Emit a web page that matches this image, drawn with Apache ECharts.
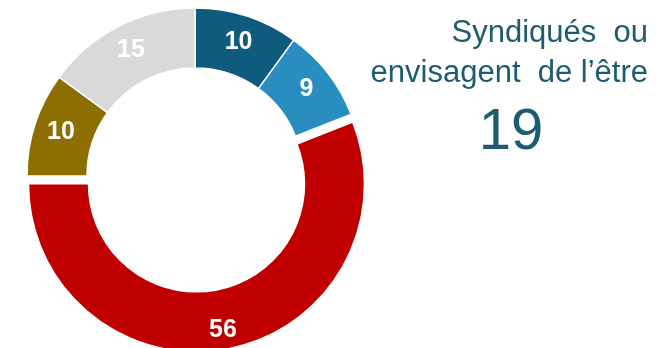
<!DOCTYPE html>
<html>
<head>
<meta charset="utf-8">
<script src="https://cdn.jsdelivr.net/npm/echarts@6/dist/echarts.min.js"></script>
<style>
html,body{margin:0;padding:0;background:#fff;}
#chart{width:666px;height:348px;}
</style>
</head>
<body>
<div id="chart"></div>
<script>
const categories = ['Syndiqués', 'Envisagent de l\'être', 'Non', 'Autre', 'NSP'];
const values = [10, 9, 56, 10, 15];
const colors = ['#0f5b7e', '#2a8dbf', '#c00000', '#8c6f00', '#d9d9d9'];
const explodedIndex = 2;
const titleLines = ['Syndiqués  ou', 'envisagent  de l\u2019être'];
const highlightValue = '19';

const chart = echarts.init(document.getElementById('chart'), null, {renderer: 'canvas'});
const option = {
  animation: false,
  backgroundColor: '#ffffff',
  series: [{
    type: 'pie',
    center: [195, 176],
    radius: [108, 168],
    startAngle: 90,
    clockwise: true,
    selectedMode: 'single',
    selectedOffset: 8,
    avoidLabelOverlap: false,
    itemStyle: {borderColor: '#ffffff', borderWidth: 1.5},
    label: {
      show: true,
      position: 'inside',
      formatter: '{c}',
      color: '#ffffff',
      fontFamily: 'Liberation Sans, Arial, sans-serif',
      fontWeight: 'bold',
      fontSize: 25
    },
    labelLine: {show: false},
    emphasis: {disabled: true},
    labelLayout: function (p) { return p.dataIndex === explodedIndex ? {dy: 8} : {}; },
    data: values.map((v, i) => ({
      name: categories[i],
      value: v,
      selected: i === explodedIndex,
      itemStyle: {color: colors[i]},
      select: {itemStyle: {color: colors[i], borderColor: '#ffffff', borderWidth: 1.5}, label: {color: '#ffffff'}}
    }))
  }],
  graphic: [
    {type: 'text', x: 648, y: 18, style: {text: titleLines[0], fill: '#1d5b70', font: '31px "Liberation Sans", Arial, sans-serif', textAlign: 'right', textVerticalAlign: 'top'}},
    {type: 'text', x: 648, y: 58, style: {text: titleLines[1], fill: '#1d5b70', font: '31px "Liberation Sans", Arial, sans-serif', textAlign: 'right', textVerticalAlign: 'top'}},
    {type: 'text', x: 511, y: 104, style: {text: highlightValue, fill: '#1d5b70', font: '58px "Liberation Sans", Arial, sans-serif', textAlign: 'center', textVerticalAlign: 'top'}}
  ]
};
chart.setOption(option);
</script>
</body>
</html>
